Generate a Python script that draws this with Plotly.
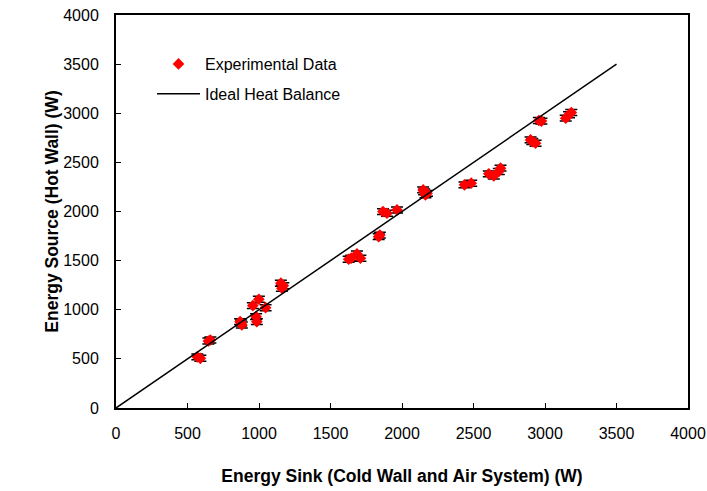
import plotly.graph_objects as go

# Experimental data (W)
sink_w = [569, 590, 646, 660, 868, 880, 875, 957, 999, 1046, 980, 985, 1153, 1160, 1170,
          1627, 1645, 1685, 1709, 1837, 1845, 1867, 1895, 1965, 2148, 2164, 2175, 2155,
          2437, 2484, 2607, 2642, 2689, 2677, 2899, 2934, 2911, 2957, 2975, 3145, 3168, 3184]
source_w = [520, 506, 682, 692, 879, 845, 865, 1042, 1107, 1021, 930, 879, 1270, 1219, 1245,
            1514, 1525, 1568, 1524, 1744, 1760, 1999, 1982, 2016, 2220, 2169, 2185, 2200,
            2271, 2288, 2383, 2362, 2441, 2407, 2729, 2695, 2712, 2926, 2920, 2950, 2984, 3007]
source_err = [30] * len(sink_w)

# Ideal heat balance line
ideal_x = [0, 3500]
ideal_y = [0, 3500]

x_ticks = [0, 500, 1000, 1500, 2000, 2500, 3000, 3500, 4000]
y_ticks = [0, 500, 1000, 1500, 2000, 2500, 3000, 3500, 4000]

FONT = "Liberation Sans, Arial, sans-serif"

fig = go.Figure()
fig.add_trace(go.Scatter(
    x=sink_w, y=source_w, mode="markers", name="Experimental Data",
    legendgroup="a",
    marker=dict(symbol="diamond", size=9, color="#ff0000", line=dict(width=0)),
    error_y=dict(type="data", array=source_err, visible=True, color="black",
                 thickness=1.5, width=6),
))
fig.add_trace(go.Scatter(
    x=ideal_x, y=ideal_y, mode="lines", name="Ideal Heat Balance",
    legendgroup="b",
    line=dict(color="black", width=1.5),
))

axis_common = dict(
    showgrid=False, zeroline=False, showline=True, linecolor="black", linewidth=2,
    mirror=True, ticks="inside", ticklen=5, tickwidth=1, tickcolor="black",
    tickfont=dict(family=FONT, size=16, color="black"), automargin=False,
    ticklabeloverflow="allow",
)
fig.update_xaxes(range=[0, 4000], tickvals=x_ticks, ticktext=[str(v) for v in x_ticks],
                 ticklabelstandoff=10,
                 title=dict(text="<b>Energy Sink (Cold Wall and Air System) (W)</b>",
                            font=dict(family=FONT, size=17.5, color="black"), standoff=29),
                 **axis_common)
fig.update_yaxes(range=[0, 4000], tickvals=y_ticks, ticktext=[str(v) for v in y_ticks],
                 ticklabelstandoff=12,
                 title=dict(text="<b>Energy Source (Hot Wall) (W)</b>",
                            font=dict(family=FONT, size=17.5, color="black"), standoff=0),
                 **axis_common)

fig.update_layout(
    width=707, height=491,
    margin=dict(l=116, r=19, t=15, b=83),
    plot_bgcolor="white", paper_bgcolor="white",
    font=dict(family=FONT, color="black"),
    showlegend=True,
    legend=dict(x=(152 - 116) / 572, y=(408 - 47) / 393, xanchor="left", yanchor="top",
                bgcolor="rgba(0,0,0,0)", font=dict(family=FONT, size=16, color="black"),
                itemwidth=43, tracegroupgap=6, traceorder="grouped"),
)

# remove the default page margin so the figure fills the window exactly
fig.write_html("out.html",
               config={"displayModeBar": False},
               post_script="document.body.style.margin='0';"
                           "document.body.style.overflow='hidden';")
